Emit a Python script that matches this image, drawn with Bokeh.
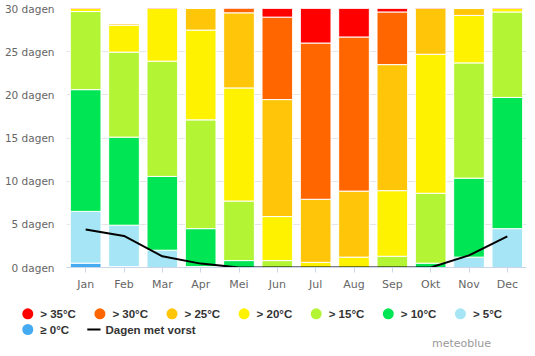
from bokeh.plotting import figure
from bokeh.models import ColumnDataSource, FactorRange, Range1d, FixedTicker, PrintfTickFormatter
from bokeh.core.properties import value
from bokeh.embed import file_html
from bokeh.resources import INLINE

months = ["Jan", "Feb", "Mar", "Apr", "Mei", "Jun", "Jul", "Aug", "Sep", "Okt", "Nov", "Dec"]

# days per month in each temperature class (bottom to top of stack)
ge0 = [0.5, 0.1, 0.0, 0.0, 0.0, 0.0, 0.0, 0.0, 0.0, 0.0, 0.0, 0.0]
gt5 = [6.0, 4.8, 2.0, 0.1, 0.0, 0.0, 0.0, 0.0, 0.0, 0.0, 1.2, 4.5]
gt10 = [14.1, 10.2, 8.55, 4.4, 0.8, 0.0, 0.0, 0.0, 0.0, 0.5, 9.15, 15.2]
gt15 = [9.05, 9.85, 13.35, 12.6, 6.9, 0.8, 0.0, 0.0, 1.3, 8.1, 13.35, 9.9]
gt20 = [1.35, 3.1, 7.1, 10.4, 13.1, 5.1, 0.6, 1.2, 7.6, 16.1, 5.5, 1.4]
gt25 = [0.0, 0.2, 0.0, 2.5, 8.7, 13.55, 7.3, 7.65, 14.6, 6.3, 0.8, 0.0]
gt30 = [0.0, 0.0, 0.0, 0.0, 1.5, 9.55, 18.1, 17.85, 6.1, 0.0, 0.0, 0.0]
gt35 = [0.0, 0.0, 0.0, 0.0, 0.0, 1.0, 5.0, 4.3, 0.4, 0.0, 0.0, 0.0]
frost = [4.4, 3.65, 1.3, 0.45, 0.0, 0.0, 0.0, 0.0, 0.0, 0.0, 1.4, 3.6]

y_ticks = [0, 5, 10, 15, 20, 25, 30]

series_keys = ["ge0", "gt5", "gt10", "gt15", "gt20", "gt25", "gt30", "gt35"]
series_colors = ["#45abf0", "#a5e5f5", "#00e554", "#b3f534", "#fff200", "#ffc508", "#ff6600", "#ff0000"]
legend_row1_labels = ["> 35°C", "> 30°C", "> 25°C", "> 20°C", "> 15°C", "> 10°C", "> 5°C"]
legend_row1_colors = ["#ff0000", "#ff6600", "#ffc508", "#fff200", "#b3f534", "#00e554", "#a5e5f5"]
legend_row2_label = "≥ 0°C"
legend_row2_color = "#45abf0"
frost_label = "Dagen met vorst"
credit = "meteoblue"

source = ColumnDataSource(dict(months=months, ge0=ge0, gt5=gt5, gt10=gt10, gt15=gt15,
                               gt20=gt20, gt25=gt25, gt30=gt30, gt35=gt35, frost=frost))

W = 535
p = figure(x_range=FactorRange(*months, range_padding=0), y_range=Range1d(0, 30),
           width=W, height=295, output_backend="svg", toolbar_location=None,
           min_border_left=66, min_border_right=9, min_border_top=8, min_border_bottom=28)
p.outline_line_color = None

p.vbar_stack(series_keys, x="months", width=0.8, color=series_colors, source=source,
             line_color="white", line_width=1)
p.line(x="months", y="frost", source=source, line_color="black", line_width=2)

p.xgrid.grid_line_color = None
p.ygrid.grid_line_color = "#e6e6e6"
p.yaxis.ticker = FixedTicker(ticks=y_ticks)
p.yaxis.formatter = PrintfTickFormatter(format="%d dagen")
p.yaxis.axis_line_color = None
p.yaxis.major_tick_line_color = None
p.yaxis.major_tick_out = 0
p.yaxis.major_tick_in = 0
p.yaxis.minor_tick_line_color = None
p.yaxis.major_label_text_font = "DejaVu Sans"
p.yaxis.major_label_text_font_size = "10.5px"
p.yaxis.major_label_text_color = "#666666"
p.yaxis.major_label_standoff = 12

p.xaxis.axis_line_color = "#ccd6eb"
p.xaxis.major_tick_line_color = "#ccd6eb"
p.xaxis.major_tick_out = 5
p.xaxis.major_tick_in = 0
p.xaxis.major_label_text_font = "DejaVu Sans"
p.xaxis.major_label_text_font_size = "11px"
p.xaxis.major_label_text_color = "#666666"
p.xaxis.major_label_standoff = 5

# legend panel (pixel coordinates)
LH = 58
lg = figure(width=W, height=LH, x_range=Range1d(0, W), y_range=Range1d(LH, 0),
            x_axis_type=None, y_axis_type=None,
            output_backend="svg", toolbar_location=None, min_border=0)
lg.grid.visible = False
lg.outline_line_color = None

font = value("Liberation Sans")
step = 72.1
x0 = 27.3
row1 = 18.3
row2 = 34
xs = [x0 + i * step for i in range(len(legend_row1_labels))]
lg.scatter(x=xs, y=[row1] * len(xs), size=11, color=legend_row1_colors, line_color=None)
lg.text(x=[x + 12.5 for x in xs], y=[row1] * len(xs), text=legend_row1_labels,
        text_font=font, text_font_style="bold", text_font_size="11.5px",
        text_color="#333333", text_baseline="middle")
lg.scatter(x=[x0], y=[row2], size=11, color=legend_row2_color, line_color=None)
lg.text(x=[x0 + 12.5], y=[row2], text=[legend_row2_label],
        text_font=font, text_font_style="bold", text_font_size="11.5px",
        text_color="#333333", text_baseline="middle")
lg.line(x=[x0 + 59.5, x0 + 72.7], y=[row2, row2], line_color="black", line_width=2)
lg.text(x=[x0 + 77.7], y=[row2], text=[frost_label],
        text_font=font, text_font_style="bold", text_font_size="11.5px",
        text_color="#333333", text_baseline="middle")
lg.text(x=[431.5], y=[47.5], text=[credit], text_font=value("DejaVu Sans"),
        text_font_size="11px", text_color="#999999", text_baseline="middle")

open("out.html", "w").write(file_html([p, lg], INLINE))
